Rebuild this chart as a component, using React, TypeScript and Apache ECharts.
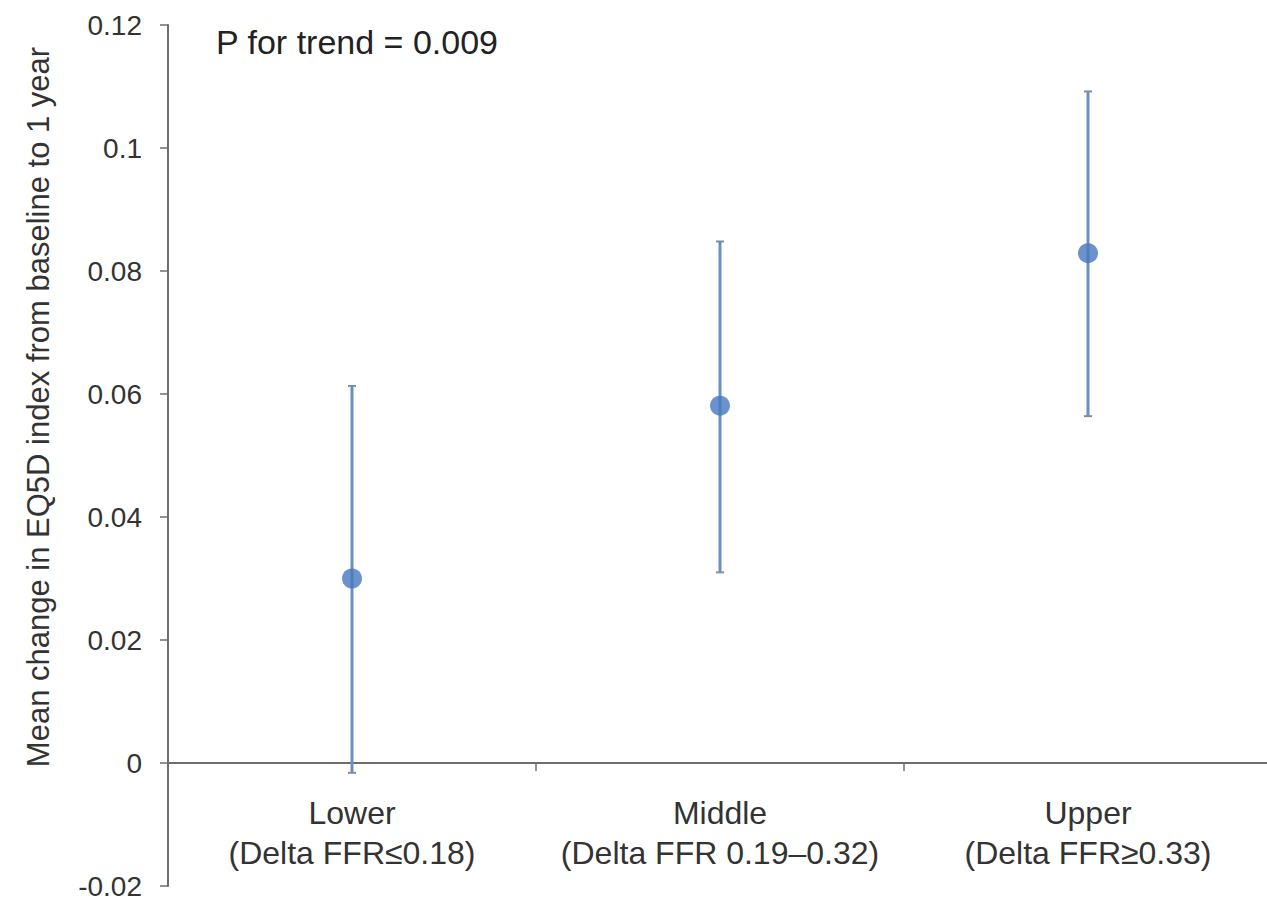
import React, { useEffect, useRef } from "react";
import * as echarts from "echarts";

const groupNames = ["Lower\n(Delta FFR≤0.18)", "Middle\n(Delta FFR 0.19–0.32)", "Upper\n(Delta FFR≥0.33)"];
const meanChange = [0.030, 0.0581, 0.0829];
const ciLower = [-0.0016, 0.031, 0.0564];
const ciUpper = [0.0613, 0.0848, 0.1092];
const yTicks = { min: -0.02, max: 0.12, interval: 0.02 };
const trendNote = "P for trend = 0.009";
const yTitle = "Mean change in EQ5D index from baseline to 1 year";

const FONT = "'Liberation Sans', Arial, sans-serif";
const BAR_COLOR = "#6b8fc4";
const DOT_COLOR = "#4677c0";
const AXIS_COLOR = "#6e6e6e";
const TEXT_COLOR = "#333333";

export default function App() {
  const ref = useRef<HTMLDivElement>(null);

  useEffect(() => {
    if (!ref.current) return;
    const chart = echarts.init(ref.current, undefined, { renderer: "svg" });

    const errorData = groupNames.map((_, i) => [i, ciLower[i], ciUpper[i]]);
    const labelData = groupNames.map((name, i) => [i, 0, name]);

    chart.setOption({
      animation: false,
      backgroundColor: "#ffffff",
      textStyle: { fontFamily: FONT },
      grid: {
        left: 168,
        top: 25,
        width: 1104,
        height: 861,
        containLabel: false,
        outerBoundsMode: "none",
      },
      xAxis: {
        type: "category",
        data: groupNames,
        boundaryGap: true,
        axisLine: { onZero: true, lineStyle: { color: AXIS_COLOR, width: 2 } },
        axisTick: { show: true, length: 8, inside: false, lineStyle: { color: AXIS_COLOR, width: 1.5 } },
        axisLabel: { show: false },
        splitLine: { show: false },
      },
      yAxis: {
        type: "value",
        min: yTicks.min,
        max: yTicks.max,
        interval: yTicks.interval,
        axisLine: { show: true, lineStyle: { color: AXIS_COLOR, width: 2 } },
        axisTick: { show: true, length: 8, lineStyle: { color: AXIS_COLOR, width: 1.5 } },
        axisLabel: {
          fontFamily: FONT,
          fontSize: 28,
          color: TEXT_COLOR,
          margin: 26,
          formatter: (v: number) => String(Math.round(v * 1000) / 1000),
        },
        splitLine: { show: false },
      },
      series: [
        {
          type: "custom",
          name: "95% CI",
          data: errorData,
          encode: { x: 0, y: [1, 2] },
          renderItem: (params: any, api: any) => {
            const xi = api.value(0);
            const lo = api.coord([xi, api.value(1)]);
            const hi = api.coord([xi, api.value(2)]);
            const capHalf = 4;
            const capStyle = { stroke: "#7f8ea8", lineWidth: 2 };
            return {
              type: "group",
              children: [
                {
                  type: "line",
                  shape: { x1: lo[0], y1: lo[1], x2: hi[0], y2: hi[1] },
                  style: { stroke: BAR_COLOR, lineWidth: 3 },
                },
                {
                  type: "line",
                  shape: { x1: hi[0] - capHalf, y1: hi[1], x2: hi[0] + capHalf, y2: hi[1] },
                  style: capStyle,
                },
                {
                  type: "line",
                  shape: { x1: lo[0] - capHalf, y1: lo[1], x2: lo[0] + capHalf, y2: lo[1] },
                  style: capStyle,
                },
              ],
            };
          },
          z: 2,
        },
        {
          type: "scatter",
          name: "Mean",
          data: meanChange,
          symbol: "circle",
          symbolSize: 20,
          itemStyle: { color: DOT_COLOR },
          z: 3,
        },
        {
          // category captions, placed just under the zero line
          type: "custom",
          name: "Group",
          data: labelData,
          encode: { x: 0, y: 1 },
          silent: true,
          renderItem: (params: any, api: any) => {
            const idx = params.dataIndex;
            const p = api.coord([api.value(0), api.value(1)]);
            return {
              type: "text",
              x: p[0],
              y: p[1] + 30,
              style: {
                text: groupNames[idx],
                fontFamily: FONT,
                fontSize: 32,
                lineHeight: 40,
                fill: TEXT_COLOR,
                align: "center",
                verticalAlign: "top",
              },
            };
          },
          z: 4,
        },
      ],
      graphic: [
        {
          type: "text",
          left: 216,
          top: 25,
          style: {
            text: trendNote,
            fontFamily: FONT,
            fontSize: 34,
            fill: "#222222",
          },
        },
        {
          type: "text",
          x: 38,
          y: 407,
          rotation: Math.PI / 2,
          style: {
            text: yTitle,
            fontFamily: FONT,
            fontSize: 31,
            fill: TEXT_COLOR,
            align: "center",
            verticalAlign: "middle",
          },
        },
      ],
    });

    return () => chart.dispose();
  }, []);

  return (
    <div
      ref={ref}
      style={{ position: "fixed", left: 0, top: 0, width: 1267, height: 900, background: "#fff" }}
    />
  );
}
